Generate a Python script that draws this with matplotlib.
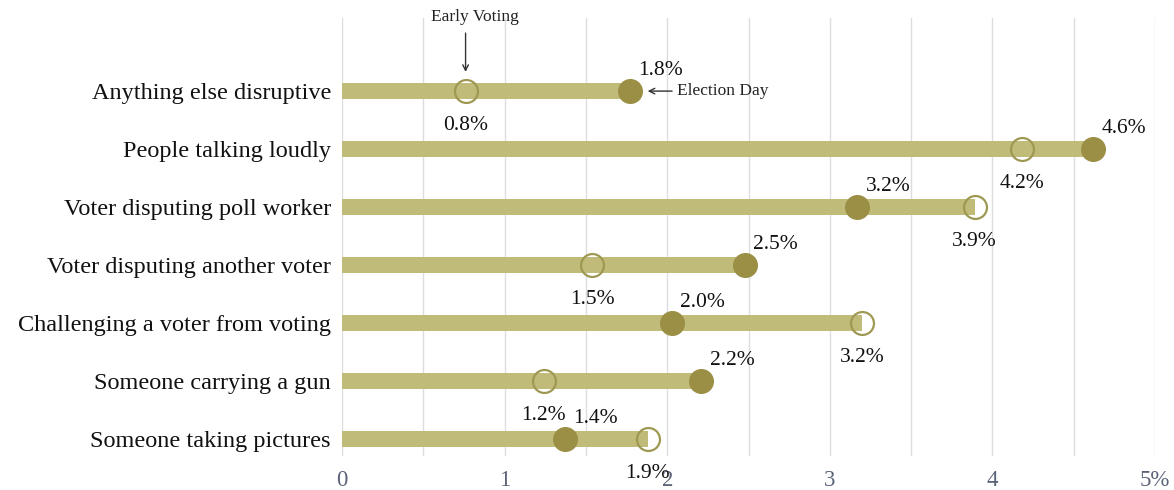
import matplotlib
matplotlib.use("Agg")
import matplotlib.pyplot as plt

categories = ["Anything else disruptive", "People talking loudly", "Voter disputing poll worker",
              "Voter disputing another voter", "Challenging a voter from voting",
              "Someone carrying a gun", "Someone taking pictures"]
early_voting = [0.76, 4.18, 3.89, 1.54, 3.20, 1.24, 1.88]
election_day = [1.77, 4.62, 3.17, 2.48, 2.03, 2.21, 1.37]
early_labels = ["0.8%", "4.2%", "3.9%", "1.5%", "3.2%", "1.2%", "1.9%"]
election_labels = ["1.8%", "4.6%", "3.2%", "2.5%", "2.0%", "2.2%", "1.4%"]
xticks = [0, 1, 2, 3, 4, 5]
xtick_labels = ["0", "1", "2", "3", "4", "5%"]

serif = ["Liberation Serif", "DejaVu Serif"]
plt.rcParams['font.family'] = serif

bar_color = "#c0bb79"
dot_color = "#9a8f45"
ring_color = "#9f9852"

fig = plt.figure(figsize=(11.74, 4.9), dpi=100)
ax = fig.add_axes([342/1174, 1-456/490, (1155-342)/1174, (456-18)/490])

ys = list(range(len(categories)))
for y, e, d in zip(ys, early_voting, election_day):
    ax.barh(y, max(e, d), height=0.28, color=bar_color, zorder=2)

ax.plot(election_day, ys, 'o', ms=17, color=dot_color, mec=dot_color, zorder=4, linestyle='none')
ax.plot(early_voting, ys, 'o', ms=16.5, mfc='none', mec=ring_color, mew=1.6, zorder=4, linestyle='none')

for y, e, d, el, dl in zip(ys, early_voting, election_day, early_labels, election_labels):
    ax.annotate(dl, (d, y), xytext=(22, 15), textcoords='offset points',
                ha='center', va='center', fontsize=15.5, color='#111111', zorder=5)
    ax.annotate(el, (e, y), xytext=(0, -25), textcoords='offset points',
                ha='center', va='center', fontsize=15.5, color='#111111', zorder=5)

# legend-like annotations on first row
ax.text(early_voting[0] + 0.06, -1.28, "Early Voting", ha='center', va='center',
        fontsize=12.5, color='#222222', clip_on=False)
ax.annotate("", xy=(early_voting[0], -0.33), xytext=(early_voting[0], -1.0),
            arrowprops=dict(arrowstyle='->', color='#333333', lw=1, shrinkA=0, shrinkB=0))
ax.text(election_day[0] + 0.29, 0, "Election Day", ha='left', va='center',
        fontsize=12.5, color='#222222')
ax.annotate("", xy=(election_day[0] + 0.11, 0), xytext=(election_day[0] + 0.26, 0),
            arrowprops=dict(arrowstyle='->', color='#333333', lw=1, shrinkA=0, shrinkB=0))

ax.set_xlim(0, 5)
ax.set_ylim(6.29, -1.26)
ax.set_yticks(ys)
ax.set_yticklabels(categories, fontsize=17.5, color='#111111')
ax.set_xticks(xticks)
ax.set_xticklabels(xtick_labels, fontsize=16.5, color='#5b6378')
ax.set_xticks([0.5, 1.5, 2.5, 3.5, 4.5], minor=True)
ax.tick_params(axis='both', length=0, which='both')
ax.tick_params(axis='x', pad=10)
ax.tick_params(axis='y', pad=8)
ax.grid(axis='x', which='both', color='#dcdce2', lw=1, zorder=0)
ax.set_axisbelow(True)
for s in ax.spines.values():
    s.set_visible(False)

fig.savefig("out.png", dpi=100)
